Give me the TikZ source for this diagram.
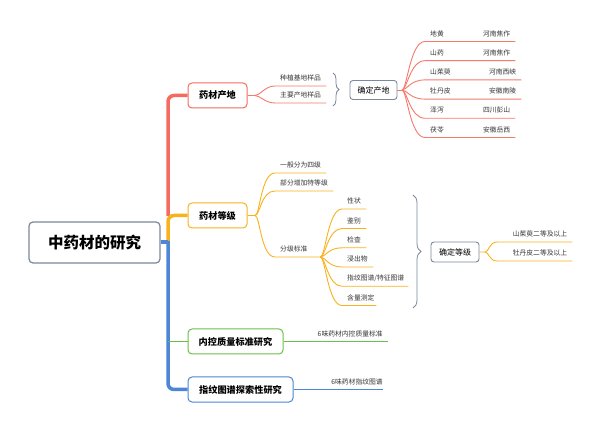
\documentclass[tikz,border=0pt]{standalone}
\usepackage{fontspec}
\setmainfont{Noto Sans CJK SC}
\usepackage{xcolor}
\usetikzlibrary{positioning,decorations.pathreplacing}
\definecolor{trunkRed}{RGB}{243,108,95}
\definecolor{branchRed}{RGB}{245,122,110}
\definecolor{rankOrange}{RGB}{248,178,30}
\definecolor{ctrlGreen}{RGB}{108,190,74}
\definecolor{fpBlue}{RGB}{76,134,212}
\definecolor{boxGray}{RGB}{124,136,156}
\definecolor{leafText}{RGB}{55,55,55}
\tikzset{
  rootbox/.style={draw=boxGray, line width=1.2pt, rounded corners=4pt, fill=white,
    minimum width=131pt, minimum height=41pt, font=\fontsize{15.5}{18}\selectfont\bfseries},
  topicbox/.style={line width=1pt, rounded corners=4pt, fill=white, minimum height=25pt,
    font=\fontsize{9.2}{11}\selectfont\bfseries},
  notebox/.style={draw=boxGray, line width=0.9pt, rounded corners=3pt, minimum height=19pt,
    font=\fontsize{8}{10}\selectfont},
  leaf/.style={anchor=south west, inner xsep=5pt, inner ysep=4.5pt, align=left,
    text=leafText, font=\fontsize{6.8}{8}\selectfont},
  twig/.style={line width=0.9pt},
  curlybrace/.style={draw=boxGray, line width=0.8pt, decorate, decoration={brace, amplitude=#1}},
}

\begin{document}
\begin{tikzpicture}[x=1pt, y=-1pt]
\path[use as bounding box, fill=white] (0,0) rectangle (600,430);

% main topics
\node[rootbox] (root) at (94.5,242.5) {中药材的研究};
\node[topicbox, draw=trunkRed, minimum width=59pt] (origin) at (217.5,95.5) {药材产地};
\node[topicbox, draw=rankOrange, minimum width=59pt] (grade) at (217.5,215.5) {药材等级};
\node[topicbox, draw=ctrlGreen, minimum width=95pt] (ctrl) at (235.5,341.5) {内控质量标准研究};
\node[topicbox, draw=fpBlue, minimum width=105pt] (finger) at (240.5,389.5) {指纹图谱探索性研究};

% trunk
\coordinate (tMid) at (168,216);
\coordinate (tLow) at (168,241);
\draw[trunkRed, line width=3.5pt, rounded corners=6pt] (origin.west) -| (tMid);
\draw[rankOrange, line width=3.5pt, rounded corners=6pt] (grade.west) -| (tLow);
\draw[fpBlue, line width=3.5pt, rounded corners=6pt] (finger.west) -| (tLow);
\draw[fpBlue, line width=4pt] (root.east) -- (root.east -| tLow);
\draw[ctrlGreen, line width=1pt] (ctrl.west) -- (ctrl.west -| tLow);

% origin branch
\coordinate (oHub) at (255,95.5);
\node[leaf, text width=41pt] (plant) at (275,86) {种植基地样品};
\node[leaf, text width=41pt] (mainSrc) at (275,103) {主要产地样品};
\draw[twig, branchRed] (origin.east) -- (oHub) .. controls +(5,0) and +(-10,0) .. (plant.south west) -- (plant.south east);
\draw[twig, branchRed] (oHub) .. controls +(5,0) and +(-10,0) .. (mainSrc.south west) -- (mainSrc.south east);
\coordinate (b1top) at (333,73);
\coordinate (b1bot) at (333,106);
\draw[curlybrace=6pt] (b1top) -- (b1bot);
\node[notebox, minimum width=47pt] (fixOrigin) at (373.5,90) {确定产地};
\coordinate (fHub) at (402,90);
\node[leaf, text width=80pt] (dh) at (425,41.5) {地黄\hfill 河南焦作};
\node[leaf, text width=80pt] (sy) at (425,60.7) {山药\hfill 河南焦作};
\node[leaf, text width=86pt] (szy) at (425,79.9) {山茱萸\hfill 河南西峡};
\node[leaf, text width=86pt] (mdp) at (425,99.1) {牡丹皮\hfill 安徽南陵};
\node[leaf, text width=80pt] (zx) at (425,118.3) {泽泻\hfill 四川彭山};
\node[leaf, text width=80pt] (fl) at (425,137.5) {茯苓\hfill 安徽岳西};
\draw[twig, branchRed] (fixOrigin.east) -- (fHub);
\draw[twig, branchRed] (fHub) .. controls +(5,0) and +(-15,0) .. (dh.south west) -- (dh.south east);
\draw[twig, branchRed] (fHub) .. controls +(5,0) and +(-15,0) .. (sy.south west) -- (sy.south east);
\draw[twig, branchRed] (fHub) .. controls +(5,0) and +(-15,0) .. (szy.south west) -- (szy.south east);
\draw[twig, branchRed] (fHub) .. controls +(5,0) and +(-15,0) .. (mdp.south west) -- (mdp.south east);
\draw[twig, branchRed] (fHub) .. controls +(5,0) and +(-15,0) .. (zx.south west) -- (zx.south east);
\draw[twig, branchRed] (fHub) .. controls +(5,0) and +(-15,0) .. (fl.south west) -- (fl.south east);

% grade branch
\coordinate (gHub) at (255,215.5);
\node[leaf, text width=41pt] (four) at (275,173) {一般分为四级};
\node[leaf, text width=48pt] (extra) at (275,191) {部分增加特等级};
\node[leaf, text width=35pt] (std) at (275,257) {分级标准};
\draw[twig, rankOrange] (grade.east) -- (gHub) .. controls +(5,0) and +(-14,0) .. (four.south west) -- (four.south east);
\draw[twig, rankOrange] (gHub) .. controls +(5,0) and +(-14,0) .. (extra.south west) -- (extra.south east);
\draw[twig, rankOrange] (gHub) .. controls +(5,0) and +(-14,0) .. (std.south west) -- (std.south east);
\node[leaf, text width=14pt] (xz) at (342,209) {性状};
\node[leaf, text width=14pt] (jb) at (342,228.5) {鉴别};
\node[leaf, text width=14pt] (jc) at (342,247.8) {检查};
\node[leaf, text width=21pt] (jcw) at (342,267) {浸出物};
\node[leaf, text width=56pt] (tz) at (342,286.3) {指纹图谱/特征图谱};
\node[leaf, text width=24pt] (hl) at (342,305.5) {含量测定};
\draw[twig, rankOrange] (std.south east) .. controls +(5,0) and +(-14,0) .. (xz.south west) -- (xz.south east);
\draw[twig, rankOrange] (std.south east) .. controls +(5,0) and +(-14,0) .. (jb.south west) -- (jb.south east);
\draw[twig, rankOrange] (std.south east) .. controls +(5,0) and +(-14,0) .. (jc.south west) -- (jc.south east);
\draw[twig, rankOrange] (std.south east) .. controls +(5,0) and +(-14,0) .. (jcw.south west) -- (jcw.south east);
\draw[twig, rankOrange] (std.south east) .. controls +(5,0) and +(-14,0) .. (tz.south west) -- (tz.south east);
\draw[twig, rankOrange] (std.south east) .. controls +(5,0) and +(-14,0) .. (hl.south west) -- (hl.south east);
\coordinate (b2top) at (413,195);
\coordinate (b2bot) at (413,308);
\draw[curlybrace=8pt] (b2top) -- (b2bot);
\node[notebox, minimum width=48pt, minimum height=20pt] (fixGrade) at (455,252) {确定等级};
\coordinate (dHub) at (485,252);
\node[leaf, align=right, text width=65pt] (szyLvl) at (497,242) {山茱萸二等及以上};
\node[leaf, align=right, text width=65pt] (mdpLvl) at (497,261) {牡丹皮二等及以上};
\draw[twig, rankOrange] (fixGrade.east) -- (dHub) .. controls +(4,0) and +(-8,0) .. (szyLvl.south west) -- (szyLvl.south east);
\draw[twig, rankOrange] (dHub) .. controls +(4,0) and +(-8,0) .. (mdpLvl.south west) -- (mdpLvl.south east);

% control and fingerprint
\node[leaf, align=right, text width=94pt] (ctrlStd) at (ctrl.east) {6味药材内控质量标准};
\draw[twig, ctrlGreen] (ctrl.east) -- (ctrlStd.south east);
\node[leaf, align=right, inner xsep=0pt, text width=89pt] (fpMap) at (finger.east) {6味药材指纹图谱};
\draw[twig, fpBlue] (finger.east) -- (fpMap.south east);
\end{tikzpicture}
\end{document}
